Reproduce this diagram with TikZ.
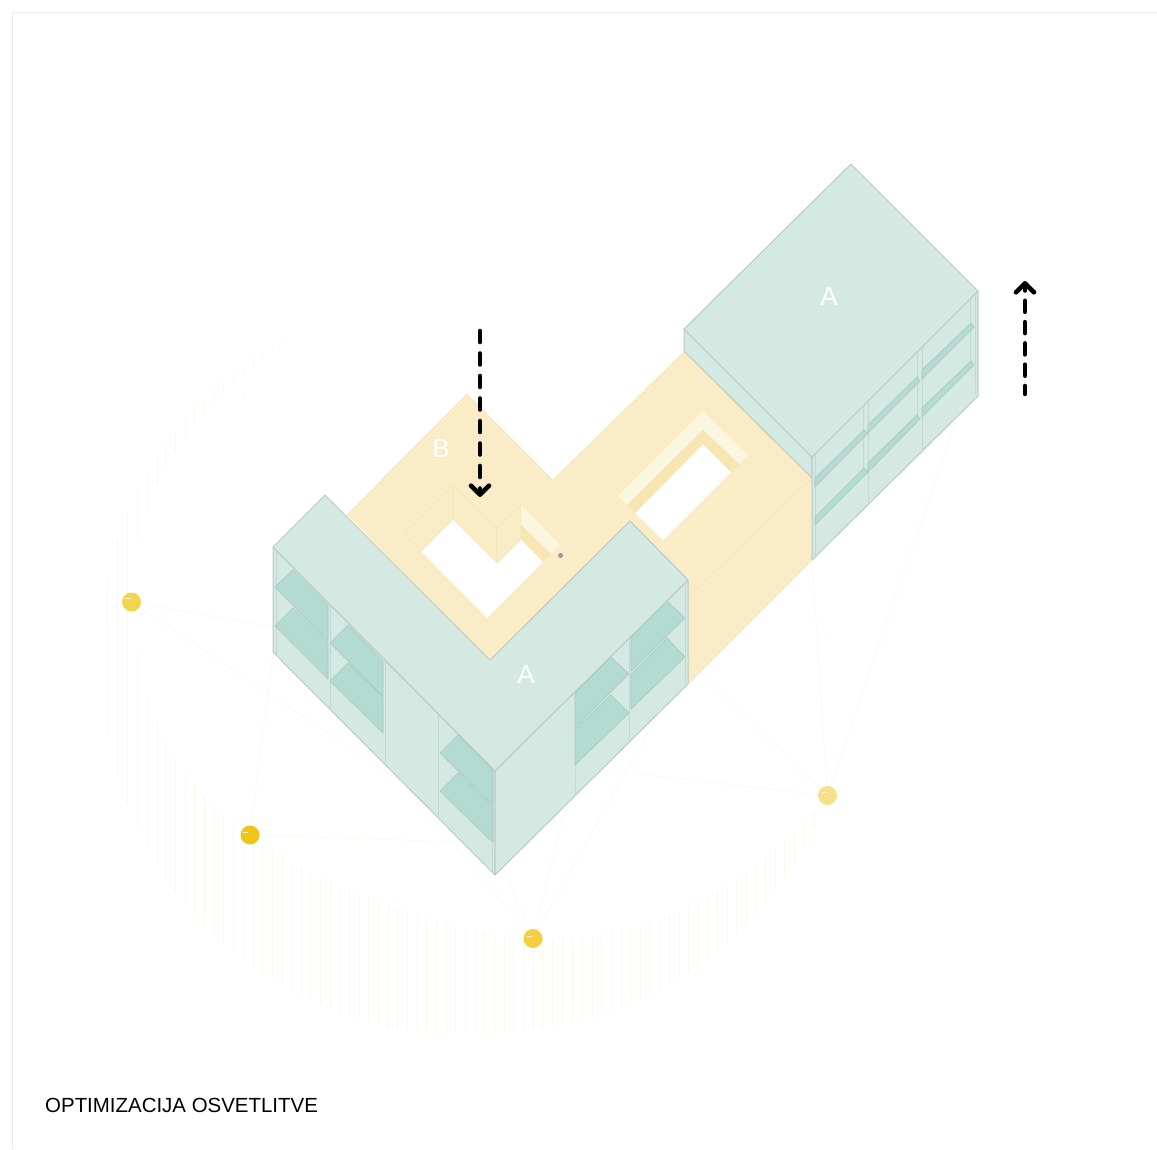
\documentclass[tikz,border=0pt]{standalone}
\usepackage{fontspec}
\setmainfont{Liberation Sans}
\usetikzlibrary{arrows.meta}

\definecolor{roofc}{HTML}{D5E9E3}
\definecolor{edgec}{HTML}{B9C9C5}
\definecolor{mullc}{HTML}{C4D8D2}
\definecolor{glassc}{HTML}{B4DBD2}
\definecolor{glassedge}{HTML}{A8C6BF}
\definecolor{plazac}{HTML}{F9ECC6}
\definecolor{plazaedge}{HTML}{F5E6B6}
\definecolor{palec}{HTML}{FCF5DF}
\definecolor{darkc}{HTML}{F8E5B4}
\definecolor{stripec}{HTML}{FCF6E6}
\definecolor{rayc}{HTML}{F6EEC8}
\definecolor{framec}{HTML}{ECECEC}

\tikzset{
  roof/.style={fill=roofc, draw=edgec, line width=1pt},
  mull/.style={draw=mullc, line width=1pt},
  glass/.style={fill=glassc, draw=glassedge, line width=0.6pt},
  plaza/.style={fill=plazac, draw=plazaedge, line width=0.7pt},
  stripe/.style={draw=stripec, line width=1pt},
  ray/.style={draw=rayc, line width=0.7pt, opacity=0.55, dash pattern=on 2pt off 1.5pt},
  sun/.style={circle, inner sep=0pt, minimum size=19pt},
  glint/.style={draw=white, line width=0.8pt, opacity=0.8},
  bigletter/.style={text=white, inner sep=0pt, font=\fontsize{26}{30}\selectfont},
  flow/.style={->, >={Straight Barb[round, length=9pt, width=18pt]}, line width=4.6pt}
}

\begin{document}
\begin{tikzpicture}[x=1pt, y=-1pt, line cap=round, line join=round]

\useasboundingbox (0,0) rectangle (1157,1149);
\draw[framec, line width=1pt] (12.5,1149) -- (12.5,12.5) -- (1157,12.5);

% hatching
\foreach \x/\a/\b in {107/578/736, 117/540/775, 127/513/803, 137/653/827, 147/697/846, 157/723/863, 165/743/877,
  175/759/891, 185/774/903, 194/786/914, 204/797/925, 214/807/934, 223/815/943, 233/823/950, 243/844/958, 253/840/965,
  262/845/972, 272/852/978, 282/857/983, 291/863/988, 301/868/993, 310/873/998, 320/878/1003, 330/883/1007, 339/887/1011,
  349/891/1015, 359/894/1018, 368/898/1021, 378/901/1024, 388/905/1027, 397/908/1028, 407/911/1029, 417/915/1030,
  426/918/1031, 436/921/1031, 446/924/1032, 455/927/1032, 465/929/1032, 475/931/1032, 484/933/1032, 494/934/1032,
  504/935/1032, 513/937/1030, 523/938/1029, 533/938/1028, 542/938/1027, 552/940/1025, 562/939/1023, 572/938/1021,
  582/937/1018, 592/936/1016, 601/935/1013, 611/933/1009, 621/930/1006, 630/928/1002, 640/926/998, 649/923/993,
  659/919/988, 669/916/983, 679/912/977, 688/907/971, 698/903/964, 708/897/957, 717/892/950, 727/886/942, 736/879/933,
  746/872/923, 756/865/913, 765/857/902, 775/849/890, 784/841/877, 794/832/862, 804/822/846, 814/812/828, 824/803/809}
  \draw[stripe] (\x,\a) -- (\x,\b);
\foreach \x/\a/\b in {137/492/538, 147/474/507, 157/458/484, 165/445/466, 175/432/451, 185/420/437, 194/410/424,
  204/399/413, 214/390/402, 223/382/392, 233/374/383, 243/367/374, 243/393/400, 253/359/366, 262/353/358, 272/347/350, 282/340/342}
  \draw[stripe] (\x,\a) -- (\x,\b);

% plaza
\fill[plazac] (467,394) -- (553,480) -- (685,351) -- (812,478) -- (812,560) -- (688,684) -- (688,580) -- (630,521) -- (490,660) -- (347,515) -- cycle;
\draw[plazaedge, line width=0.7pt] (347,515) -- (467,394) -- (553,480) -- (685,351);
\draw[plazaedge, line width=0.7pt] (688,684) -- (812,560) -- (812,478) -- (688,597);

% left courtyard
\fill[white] (421,551) -- (453,519) -- (497,563) -- (521,539) -- (543,562) -- (487,618) -- cycle;
\draw[plaza] (404,534) -- (453,485) -- (453,519) -- (421,551) -- cycle;
\draw[plaza] (453,485) -- (497,528) -- (497,563) -- (453,519) -- cycle;
\draw[plaza] (497,528) -- (521,505) -- (521,539) -- (497,563) -- cycle;
\fill[palec] (521,505) -- (560,545) -- (551,554) -- (521,525) -- cycle;
\fill[darkc] (521,525) -- (551,554) -- (543,562) -- (521,539) -- cycle;
\fill[gray!80] (560.5,555.5) circle[radius=2.5pt];

% right courtyard
\fill[white] (635,513) -- (703,444) -- (731,472) -- (663,540) -- cycle;
\fill[palec] (618,496) -- (703,411) -- (748,455) -- (739,464) -- (703,430) -- (627,505) -- cycle;
\fill[darkc] (627,505) -- (703,430) -- (739,464) -- (731,472) -- (703,444) -- (635,513) -- cycle;

% block on the right
\draw[roof] (684,329) -- (812,457) -- (812,478) -- (684,351) -- cycle;
\draw[roof] (812,457) -- (978,291) -- (978,396) -- (812,560) -- cycle;
\draw[mull] (815.5,454) -- (815.5,557);
\draw[mull] (863,406) -- (863,472);
\draw[mull] (868,401) -- (868,503);
\draw[mull] (917,352) -- (917,415);
\draw[mull] (922,347) -- (922,450);
\draw[mull] (970,299) -- (970,360);
\draw[mull] (975,294) -- (975,394);
\draw[glass] (815,478) -- (864,430) -- (868,433) -- (815,487) -- cycle;
\draw[glass] (815,517) -- (864,468) -- (868,472) -- (815,525) -- cycle;
\draw[glass] (868,425) -- (917,377) -- (920,381) -- (868,433) -- cycle;
\draw[glass] (868,463) -- (917,415) -- (920,419) -- (868,472) -- cycle;
\draw[glass] (922,370) -- (971,323) -- (974,327) -- (922,379) -- cycle;
\draw[glass] (922,408) -- (971,361) -- (974,365) -- (922,417) -- cycle;
\draw[roof] (851,164) -- (978,291) -- (812,457) -- (684,329) -- cycle;

% L block
\draw[roof] (273,547) -- (495,771) -- (495,875) -- (273,652) -- cycle;
\draw[roof] (495,771) -- (688,580) -- (688,684) -- (495,875) -- cycle;
\draw[mull] (276,550) -- (276,655);
\draw[mull] (330.5,606) -- (330.5,710);
\draw[mull] (385,660) -- (385,763);
\draw[mull] (438.5,713) -- (438.5,818);
\draw[mull] (492.5,768) -- (492.5,872);
\draw[mull] (575,693) -- (575,795);
\draw[mull] (629.5,638) -- (629.5,742);
\draw[mull] (685,583) -- (685,687);
\draw[glass] (275,587) -- (293,570) -- (328,605) -- (328,641) -- cycle;
\draw[glass] (275,626) -- (293,608) -- (328,643) -- (328,679) -- cycle;
\draw[glass] (330,643) -- (348,625) -- (383,661) -- (383,696) -- cycle;
\draw[glass] (330,681) -- (348,663) -- (383,697) -- (383,733) -- cycle;
\draw[glass] (440,753) -- (458,735) -- (493,770) -- (493,805) -- cycle;
\draw[glass] (440,791) -- (458,773) -- (493,807) -- (493,843) -- cycle;
\draw[glass] (575,693) -- (611,657) -- (629,674) -- (575,727) -- cycle;
\draw[glass] (575,729) -- (611,695) -- (629,713) -- (575,765) -- cycle;
\draw[glass] (631,637) -- (667,601) -- (685,618) -- (631,671) -- cycle;
\draw[glass] (631,674) -- (667,638) -- (685,657) -- (631,709) -- cycle;
\draw[roof] (325,495) -- (490,660) -- (630,521) -- (688,580) -- (495,771) -- (273,547) -- cycle;

% suns
\node[sun, fill={rgb,255:red,244;green,212;blue,77}] (suna) at (131.5,602) {};
\node[sun, fill={rgb,255:red,240;green,196;blue,25}] (sunb) at (250,835) {};
\node[sun, fill={rgb,255:red,245;green,207;blue,63}] (sunc) at (533,938.5) {};
\node[sun, fill={rgb,255:red,246;green,224;blue,138}] (sund) at (827.5,795.5) {};
\draw[glint] (125,598) -- (131,598);
\draw[glint] (243,832) -- (248,832);
\draw[glint] (527,936) -- (532,936);
\draw[glint] (822,792) -- (827,792);

\coordinate (hita) at (273,627);
\coordinate (hitb) at (273,652);
\coordinate (hitc) at (493,843);
\coordinate (hitd) at (575,767);
\coordinate (hite) at (688,660);
\coordinate (hitf) at (812,560);
\coordinate (hitg) at (975,365);
\draw[ray] (suna) -- (hita);
\draw[ray] (suna) -- (hitc);
\draw[ray] (sunb) -- (hitb);
\draw[ray] (sunb) -- (hitc);
\draw[ray] (sunc) -- (hita);
\draw[ray] (sunc) -- (hitc);
\draw[ray] (sunc) -- (hitd);
\draw[ray] (sunc) -- (hite);
\draw[ray] (sund) -- (hitd);
\draw[ray] (sund) -- (hite);
\draw[ray] (sund) -- (hitf);
\draw[ray] (sund) -- (hitg);

% labels
\node[bigletter] (topa) at (829,297) {A};
\node[bigletter] (lowa) at (526,675) {A};
\node[bigletter] (plazab) at (441,449) {B};
\node[anchor=base west, inner sep=0pt, font=\fontsize{20.45}{24}\selectfont] (title) at (45,1112) {OPTIMIZACIJA OSVETLITVE};

% air flow
\coordinate (instart) at (480,331);
\coordinate (inend) at (480,497);
\coordinate (outstart) at (1025,394);
\coordinate (outend) at (1025,281);
\draw[flow, dash pattern=on 11pt off 11.5pt] (instart) -- (inend);
\draw[flow, dash pattern=on 11pt off 10.3pt, dash phase=3pt] (outstart) -- (outend);

\end{tikzpicture}
\end{document}
